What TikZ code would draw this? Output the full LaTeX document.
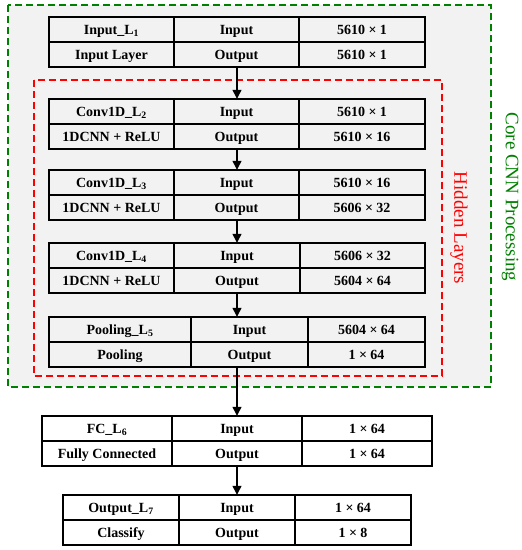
\documentclass[tikz,border=0pt]{standalone}
\usepackage{fontspec}
\setmainfont{Liberation Serif}
\usetikzlibrary{arrows.meta}
\definecolor{cnngreen}{RGB}{0,128,0}
\definecolor{hidred}{RGB}{255,0,0}
\definecolor{bggray}{RGB}{242,242,242}
\begin{document}
\begin{tikzpicture}[x=1pt,y=-1pt,
  cellbox/.style={draw=black,line width=1.3pt,inner sep=0pt,minimum height=25pt,
    text height=11.3pt,text depth=2pt,
    font=\fontsize{14}{16}\selectfont\bfseries,anchor=center},
  tframe/.style={inner sep=0pt,minimum height=50pt,anchor=center},
  flow/.style={line width=1.3pt,-{Triangle[width=9pt,length=9pt]}},
  groupbox/.style={dash pattern=on 7pt off 4pt,line width=2pt},
  grouplabel/.style={rotate=-90,font=\fontsize{19}{22}\selectfont,inner sep=0pt}]
\useasboundingbox (0,0) rectangle (522,550);
% group boxes
\draw[groupbox,draw=cnngreen,fill=bggray] (8,5) rectangle (491,387);
\draw[groupbox,draw=hidred] (34,80) rectangle (442,376);
\node[grouplabel,text=hidred] (hidden) at (459,228) {Hidden Layers};
\node[grouplabel,text=cnngreen] (core) at (510,197) {Core CNN Processing};
% tables
\foreach \n/\t/\a/\b/\c/\d/\la/\ty/\i/\o in {
  t1/17/49/174/299/425/{Input\_L\textsubscript{1}}/{Input Layer}/{5610 × 1}/{5610 × 1},
  t2/99/49/174/299/425/{Conv1D\_L\textsubscript{2}}/{1DCNN + ReLU}/{5610 × 1}/{5610 × 16},
  t3/170/49/174/299/425/{Conv1D\_L\textsubscript{3}}/{1DCNN + ReLU}/{5610 × 16}/{5606 × 32},
  t4/243/49/174/300/425/{Conv1D\_L\textsubscript{4}}/{1DCNN + ReLU}/{5606 × 32}/{5604 × 64},
  t5/317/49/191/308/425/{Pooling\_L\textsubscript{5}}/{Pooling}/{5604 × 64}/{1 × 64},
  t6/416/42/172/302/432/{FC\_L\textsubscript{6}}/{Fully Connected}/{1 × 64}/{1 × 64},
  t7/495/63/179/295/411/{Output\_L\textsubscript{7}}/{Classify}/{1 × 64}/{1 × 8}}{
  \node[tframe,minimum width={\d-\a}] (\n) at ({(\a+\d)/2},{\t+25}) {};
  \node[cellbox,minimum width={\b-\a}] (\n-la) at ({(\a+\b)/2},{\t+12.5}) {\la};
  \node[cellbox,minimum width={\c-\b}] (\n-in) at ({(\b+\c)/2},{\t+12.5}) {Input};
  \node[cellbox,minimum width={\d-\c}] (\n-iv) at ({(\c+\d)/2},{\t+12.5}) {\i};
  \node[cellbox,minimum width={\b-\a}] (\n-ty) at ({(\a+\b)/2},{\t+37.5}) {\ty};
  \node[cellbox,minimum width={\c-\b}] (\n-out) at ({(\b+\c)/2},{\t+37.5}) {Output};
  \node[cellbox,minimum width={\d-\c}] (\n-ov) at ({(\c+\d)/2},{\t+37.5}) {\o};
}
% connectors
\draw[flow] (t1) -- (t2);
\draw[flow] (t2) -- (t3);
\draw[flow] (t3) -- (t4);
\draw[flow] (t4) -- (t5);
\draw[flow] (t5) -- (t6);
\draw[flow] (t6) -- (t7);
\end{tikzpicture}
\end{document}
